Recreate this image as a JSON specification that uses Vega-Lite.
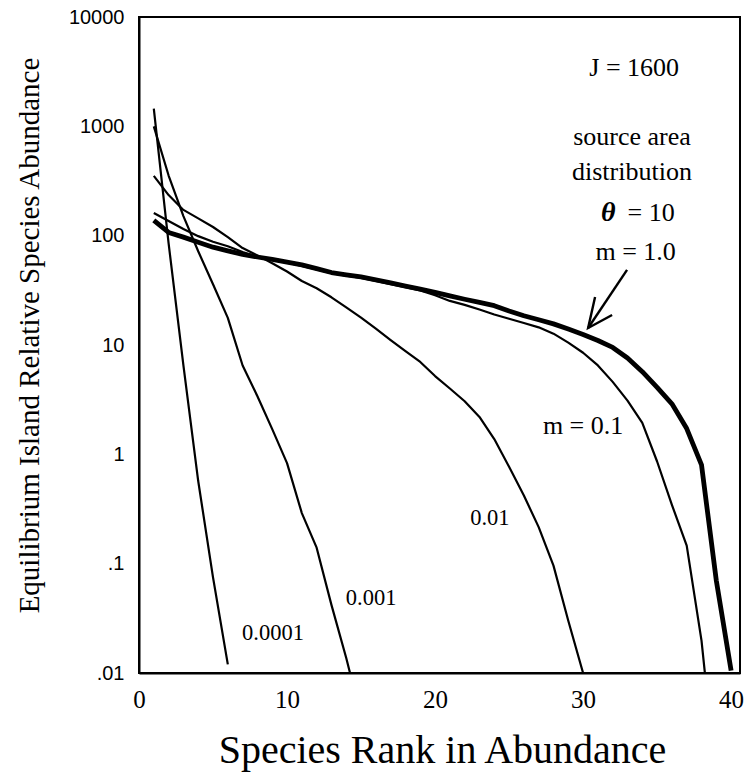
{
  "$schema": "https://vega.github.io/schema/vega-lite/v6.json",
  "width": 601,
  "height": 656,
  "autosize": {"type": "none"},
  "padding": {"left": 139, "top": 17, "right": 5, "bottom": 100},
  "background": "white",
  "config": {"view": {"stroke": "black", "strokeWidth": 2}},
  "datasets": {
    "curves": [
      {"m": "0.0001", "rank": 1, "abundance": 1450},
      {"m": "0.0001", "rank": 2, "abundance": 85},
      {"m": "0.0001", "rank": 3, "abundance": 6.5},
      {"m": "0.0001", "rank": 4, "abundance": 0.57},
      {"m": "0.0001", "rank": 5, "abundance": 0.075},
      {"m": "0.0001", "rank": 6, "abundance": 0.012},
      {"m": "0.001", "rank": 1, "abundance": 1000},
      {"m": "0.001", "rank": 2, "abundance": 355},
      {"m": "0.001", "rank": 3, "abundance": 151},
      {"m": "0.001", "rank": 4, "abundance": 72},
      {"m": "0.001", "rank": 5, "abundance": 36},
      {"m": "0.001", "rank": 6, "abundance": 17.7},
      {"m": "0.001", "rank": 7, "abundance": 6.5},
      {"m": "0.001", "rank": 8, "abundance": 3.4},
      {"m": "0.001", "rank": 9, "abundance": 1.7},
      {"m": "0.001", "rank": 10, "abundance": 0.83},
      {"m": "0.001", "rank": 11, "abundance": 0.29},
      {"m": "0.001", "rank": 12, "abundance": 0.14},
      {"m": "0.001", "rank": 13, "abundance": 0.042},
      {"m": "0.001", "rank": 14, "abundance": 0.0137},
      {"m": "0.001", "rank": 15, "abundance": 0.004},
      {"m": "0.01", "rank": 1, "abundance": 352},
      {"m": "0.01", "rank": 2, "abundance": 235},
      {"m": "0.01", "rank": 3, "abundance": 172},
      {"m": "0.01", "rank": 4, "abundance": 144},
      {"m": "0.01", "rank": 5, "abundance": 120},
      {"m": "0.01", "rank": 6, "abundance": 97},
      {"m": "0.01", "rank": 7, "abundance": 77},
      {"m": "0.01", "rank": 8, "abundance": 66},
      {"m": "0.01", "rank": 9, "abundance": 56},
      {"m": "0.01", "rank": 10, "abundance": 47},
      {"m": "0.01", "rank": 11, "abundance": 38.5},
      {"m": "0.01", "rank": 12, "abundance": 33},
      {"m": "0.01", "rank": 13, "abundance": 27.3},
      {"m": "0.01", "rank": 14, "abundance": 22.1},
      {"m": "0.01", "rank": 15, "abundance": 17.8},
      {"m": "0.01", "rank": 16, "abundance": 14.1},
      {"m": "0.01", "rank": 17, "abundance": 11.1},
      {"m": "0.01", "rank": 18, "abundance": 8.8},
      {"m": "0.01", "rank": 19, "abundance": 7.0},
      {"m": "0.01", "rank": 20, "abundance": 5.2},
      {"m": "0.01", "rank": 21, "abundance": 4.0},
      {"m": "0.01", "rank": 22, "abundance": 3.06},
      {"m": "0.01", "rank": 23, "abundance": 2.2},
      {"m": "0.01", "rank": 24, "abundance": 1.38},
      {"m": "0.01", "rank": 25, "abundance": 0.77},
      {"m": "0.01", "rank": 26, "abundance": 0.42},
      {"m": "0.01", "rank": 27, "abundance": 0.216},
      {"m": "0.01", "rank": 28, "abundance": 0.096},
      {"m": "0.01", "rank": 29, "abundance": 0.03},
      {"m": "0.01", "rank": 30, "abundance": 0.01},
      {"m": "0.1", "rank": 1, "abundance": 161},
      {"m": "0.1", "rank": 2, "abundance": 136},
      {"m": "0.1", "rank": 3, "abundance": 115},
      {"m": "0.1", "rank": 4, "abundance": 99},
      {"m": "0.1", "rank": 5, "abundance": 88},
      {"m": "0.1", "rank": 6, "abundance": 80},
      {"m": "0.1", "rank": 7, "abundance": 71},
      {"m": "0.1", "rank": 8, "abundance": 64},
      {"m": "0.1", "rank": 9, "abundance": 60},
      {"m": "0.1", "rank": 10, "abundance": 56.5},
      {"m": "0.1", "rank": 11, "abundance": 53},
      {"m": "0.1", "rank": 12, "abundance": 49},
      {"m": "0.1", "rank": 13, "abundance": 45.5},
      {"m": "0.1", "rank": 14, "abundance": 43},
      {"m": "0.1", "rank": 15, "abundance": 41},
      {"m": "0.1", "rank": 16, "abundance": 38.5},
      {"m": "0.1", "rank": 17, "abundance": 36},
      {"m": "0.1", "rank": 18, "abundance": 33.8},
      {"m": "0.1", "rank": 19, "abundance": 31.5},
      {"m": "0.1", "rank": 20, "abundance": 28.5},
      {"m": "0.1", "rank": 21, "abundance": 25.3},
      {"m": "0.1", "rank": 22, "abundance": 23.3},
      {"m": "0.1", "rank": 23, "abundance": 21.1},
      {"m": "0.1", "rank": 24, "abundance": 19},
      {"m": "0.1", "rank": 25, "abundance": 17.4},
      {"m": "0.1", "rank": 26, "abundance": 15.9},
      {"m": "0.1", "rank": 27, "abundance": 14.5},
      {"m": "0.1", "rank": 28, "abundance": 12.7},
      {"m": "0.1", "rank": 29, "abundance": 10.5},
      {"m": "0.1", "rank": 30, "abundance": 8.5},
      {"m": "0.1", "rank": 31, "abundance": 6.5},
      {"m": "0.1", "rank": 32, "abundance": 4.6},
      {"m": "0.1", "rank": 33, "abundance": 3.1},
      {"m": "0.1", "rank": 34, "abundance": 1.94},
      {"m": "0.1", "rank": 35, "abundance": 0.86},
      {"m": "0.1", "rank": 36, "abundance": 0.345},
      {"m": "0.1", "rank": 37, "abundance": 0.146},
      {"m": "0.1", "rank": 38, "abundance": 0.0198},
      {"m": "0.1", "rank": 39, "abundance": 0.001},
      {"m": "1.0", "rank": 1, "abundance": 138},
      {"m": "1.0", "rank": 2, "abundance": 107},
      {"m": "1.0", "rank": 3, "abundance": 97},
      {"m": "1.0", "rank": 4, "abundance": 87},
      {"m": "1.0", "rank": 5, "abundance": 78.5},
      {"m": "1.0", "rank": 6, "abundance": 72.6},
      {"m": "1.0", "rank": 7, "abundance": 67.4},
      {"m": "1.0", "rank": 8, "abundance": 63.8},
      {"m": "1.0", "rank": 9, "abundance": 60.7},
      {"m": "1.0", "rank": 10, "abundance": 57.3},
      {"m": "1.0", "rank": 11, "abundance": 54},
      {"m": "1.0", "rank": 12, "abundance": 49.9},
      {"m": "1.0", "rank": 13, "abundance": 46},
      {"m": "1.0", "rank": 14, "abundance": 43.9},
      {"m": "1.0", "rank": 15, "abundance": 41.9},
      {"m": "1.0", "rank": 16, "abundance": 39.5},
      {"m": "1.0", "rank": 17, "abundance": 37},
      {"m": "1.0", "rank": 18, "abundance": 34.6},
      {"m": "1.0", "rank": 19, "abundance": 32.4},
      {"m": "1.0", "rank": 20, "abundance": 30.3},
      {"m": "1.0", "rank": 21, "abundance": 28.1},
      {"m": "1.0", "rank": 22, "abundance": 26.2},
      {"m": "1.0", "rank": 23, "abundance": 24.5},
      {"m": "1.0", "rank": 24, "abundance": 22.9},
      {"m": "1.0", "rank": 25, "abundance": 20.5},
      {"m": "1.0", "rank": 26, "abundance": 18.5},
      {"m": "1.0", "rank": 27, "abundance": 17},
      {"m": "1.0", "rank": 28, "abundance": 15.6},
      {"m": "1.0", "rank": 29, "abundance": 14},
      {"m": "1.0", "rank": 30, "abundance": 12.5},
      {"m": "1.0", "rank": 31, "abundance": 11},
      {"m": "1.0", "rank": 32, "abundance": 9.5},
      {"m": "1.0", "rank": 33, "abundance": 7.6},
      {"m": "1.0", "rank": 34, "abundance": 5.7},
      {"m": "1.0", "rank": 35, "abundance": 4.1},
      {"m": "1.0", "rank": 36, "abundance": 2.9},
      {"m": "1.0", "rank": 37, "abundance": 1.72},
      {"m": "1.0", "rank": 38, "abundance": 0.8},
      {"m": "1.0", "rank": 39, "abundance": 0.07},
      {"m": "1.0", "rank": 40, "abundance": 0.0105}
    ],
    "notes": [
      {"kind": "big", "text": "J = 1600", "rank": 33.45, "abundance": 3430},
      {"kind": "big", "text": "source area", "rank": 33.3, "abundance": 802},
      {"kind": "big", "text": "distribution", "rank": 33.3, "abundance": 384},
      {"kind": "big", "text": "= 10", "rank": 34.6, "abundance": 162},
      {"kind": "big", "text": "m = 1.0", "rank": 33.55, "abundance": 71},
      {"kind": "big", "text": "m = 0.1", "rank": 30.0, "abundance": 1.82},
      {"kind": "theta", "text": "θ", "rank": 31.7, "abundance": 162},
      {"kind": "small", "text": "0.01", "rank": 23.7, "abundance": 0.262},
      {"kind": "small", "text": "0.001", "rank": 15.68, "abundance": 0.0485},
      {"kind": "small", "text": "0.0001", "rank": 9.05, "abundance": 0.0232}
    ],
    "arrow": [
      {"part": "shaft", "k": 1, "rank": 32.97, "abundance": 48.6},
      {"part": "shaft", "k": 2, "rank": 30.34, "abundance": 14.3},
      {"part": "head", "k": 1, "rank": 30.81, "abundance": 27.5},
      {"part": "head", "k": 2, "rank": 30.34, "abundance": 14.3},
      {"part": "head", "k": 3, "rank": 31.96, "abundance": 18.8}
    ],
    "xticks": [
      {"rank": 0, "kind": "major"}, {"rank": 5, "kind": "minor"}, {"rank": 10, "kind": "major"},
      {"rank": 15, "kind": "minor"}, {"rank": 20, "kind": "major"}, {"rank": 25, "kind": "minor"},
      {"rank": 30, "kind": "major"}, {"rank": 35, "kind": "minor"}, {"rank": 40, "kind": "major"}
    ],
    "yticks": [
      {"abundance": 0.01, "kind": "major"}, {"abundance": 0.02, "kind": "minor"}, {"abundance": 0.03, "kind": "minor"}, {"abundance": 0.04, "kind": "minor"}, {"abundance": 0.05, "kind": "minor"}, {"abundance": 0.06, "kind": "minor"}, {"abundance": 0.07, "kind": "minor"}, {"abundance": 0.08, "kind": "minor"}, {"abundance": 0.09, "kind": "minor"},
      {"abundance": 0.1, "kind": "major"}, {"abundance": 0.2, "kind": "minor"}, {"abundance": 0.3, "kind": "minor"}, {"abundance": 0.4, "kind": "minor"}, {"abundance": 0.5, "kind": "minor"}, {"abundance": 0.6, "kind": "minor"}, {"abundance": 0.7, "kind": "minor"}, {"abundance": 0.8, "kind": "minor"}, {"abundance": 0.9, "kind": "minor"},
      {"abundance": 1, "kind": "major"}, {"abundance": 2, "kind": "minor"}, {"abundance": 3, "kind": "minor"}, {"abundance": 4, "kind": "minor"}, {"abundance": 5, "kind": "minor"}, {"abundance": 6, "kind": "minor"}, {"abundance": 7, "kind": "minor"}, {"abundance": 8, "kind": "minor"}, {"abundance": 9, "kind": "minor"},
      {"abundance": 10, "kind": "major"}, {"abundance": 20, "kind": "minor"}, {"abundance": 30, "kind": "minor"}, {"abundance": 40, "kind": "minor"}, {"abundance": 50, "kind": "minor"}, {"abundance": 60, "kind": "minor"}, {"abundance": 70, "kind": "minor"}, {"abundance": 80, "kind": "minor"}, {"abundance": 90, "kind": "minor"},
      {"abundance": 100, "kind": "major"}, {"abundance": 200, "kind": "minor"}, {"abundance": 300, "kind": "minor"}, {"abundance": 400, "kind": "minor"}, {"abundance": 500, "kind": "minor"}, {"abundance": 600, "kind": "minor"}, {"abundance": 700, "kind": "minor"}, {"abundance": 800, "kind": "minor"}, {"abundance": 900, "kind": "minor"},
      {"abundance": 1000, "kind": "major"}, {"abundance": 2000, "kind": "minor"}, {"abundance": 3000, "kind": "minor"}, {"abundance": 4000, "kind": "minor"}, {"abundance": 5000, "kind": "minor"}, {"abundance": 6000, "kind": "minor"}, {"abundance": 7000, "kind": "minor"}, {"abundance": 8000, "kind": "minor"}, {"abundance": 9000, "kind": "minor"},
      {"abundance": 10000, "kind": "major"}
    ]
  },
  "encoding": {
    "x": {
      "field": "rank",
      "type": "quantitative",
      "scale": {"domain": [0, 40.6], "nice": false, "zero": false},
      "axis": {
        "values": [0, 10, 20, 30, 40],
        "title": "Species Rank in Abundance",
        "grid": false,
        "domainColor": "black",
        "domainWidth": 2,
        "ticks": false,
        "labelFont": "Liberation Serif",
        "labelFontSize": 25,
        "labelColor": "black",
        "labelPadding": 14,
        "labelFlush": false,
        "labelOverlap": false,
        "titleFont": "Liberation Serif",
        "titleFontSize": 40,
        "titleFontWeight": "normal",
        "titleColor": "black",
        "titleX": 303,
        "titleY": 89,
        "titleAlign": "center",
        "titleBaseline": "alphabetic"
      }
    },
    "y": {
      "field": "abundance",
      "type": "quantitative",
      "scale": {"type": "log", "domain": [0.01, 10000], "nice": false},
      "axis": {
        "values": [0.01, 0.1, 1, 10, 100, 1000, 10000],
        "labelExpr": "datum.value == 10000 ? '10000' : datum.value == 1000 ? '1000' : datum.value == 100 ? '100' : datum.value == 10 ? '10' : datum.value == 1 ? '1' : datum.value == 0.1 ? '.1' : datum.value == 0.01 ? '.01' : ''",
        "title": "Equilibrium Island Relative Species Abundance",
        "grid": false,
        "domainColor": "black",
        "domainWidth": 2,
        "ticks": false,
        "labelFont": "Liberation Sans",
        "labelFontSize": 20,
        "labelColor": "black",
        "labelPadding": 15,
        "labelOverlap": false,
        "labelFlush": false,
        "titleFont": "Liberation Serif",
        "titleFontSize": 29,
        "titleFontWeight": "normal",
        "titleColor": "black",
        "titleAngle": -90,
        "titleX": -101,
        "titleY": 318,
        "titleAlign": "center",
        "titleBaseline": "alphabetic"
      }
    }
  },
  "layer": [
    {
      "data": {"name": "curves"},
      "transform": [{"filter": "datum.m != '1.0'"}],
      "mark": {"type": "line", "clip": true, "color": "black", "strokeWidth": 2.2, "strokeJoin": "round"},
      "encoding": {"detail": {"field": "m", "type": "nominal"}}
    },
    {
      "data": {"name": "curves"},
      "transform": [{"filter": "datum.m == '1.0'"}],
      "mark": {"type": "line", "clip": true, "color": "black", "strokeWidth": 4.8, "strokeJoin": "round"},
      "encoding": {"detail": {"field": "m", "type": "nominal"}}
    },
    {
      "data": {"name": "arrow"},
      "mark": {"type": "line", "color": "black", "strokeWidth": 2.4, "strokeJoin": "miter"},
      "encoding": {
        "detail": {"field": "part", "type": "nominal"},
        "order": {"field": "k", "type": "quantitative"}
      }
    },
    {
      "data": {"name": "yticks"},
      "transform": [{"filter": "datum.kind == 'major'"}],
      "mark": {"type": "rule", "color": "black", "strokeWidth": 2, "clip": false},
      "encoding": {"x": {"datum": -0.55}, "x2": {"datum": 0}}
    },
    {
      "data": {"name": "yticks"},
      "transform": [{"filter": "datum.kind == 'minor'"}],
      "mark": {"type": "rule", "color": "black", "strokeWidth": 1.6, "clip": false},
      "encoding": {"x": {"datum": -0.2}, "x2": {"datum": 0.25}}
    },
    {
      "data": {"name": "xticks"},
      "transform": [{"filter": "datum.kind == 'major'"}],
      "mark": {"type": "rule", "color": "black", "strokeWidth": 2, "clip": false},
      "encoding": {"y": {"datum": 0.01}, "y2": {"datum": 0.00827}}
    },
    {
      "data": {"name": "xticks"},
      "transform": [{"filter": "datum.kind == 'minor'"}],
      "mark": {"type": "rule", "color": "black", "strokeWidth": 2, "clip": false},
      "encoding": {"y": {"datum": 0.01}, "y2": {"datum": 0.00881}}
    },
    {
      "data": {"name": "notes"},
      "transform": [{"filter": "datum.kind == 'big'"}],
      "mark": {"type": "text", "font": "Liberation Serif", "fontSize": 26, "color": "black", "align": "center", "baseline": "middle"},
      "encoding": {"text": {"field": "text", "type": "nominal"}}
    },
    {
      "data": {"name": "notes"},
      "transform": [{"filter": "datum.kind == 'theta'"}],
      "mark": {"type": "text", "font": "Liberation Serif", "fontSize": 28, "fontStyle": "italic", "fontWeight": "bold", "color": "black", "align": "center", "baseline": "middle"},
      "encoding": {"text": {"field": "text", "type": "nominal"}}
    },
    {
      "data": {"name": "notes"},
      "transform": [{"filter": "datum.kind == 'small'"}],
      "mark": {"type": "text", "font": "Liberation Serif", "fontSize": 22.5, "color": "black", "align": "center", "baseline": "middle"},
      "encoding": {"text": {"field": "text", "type": "nominal"}}
    }
  ]
}
